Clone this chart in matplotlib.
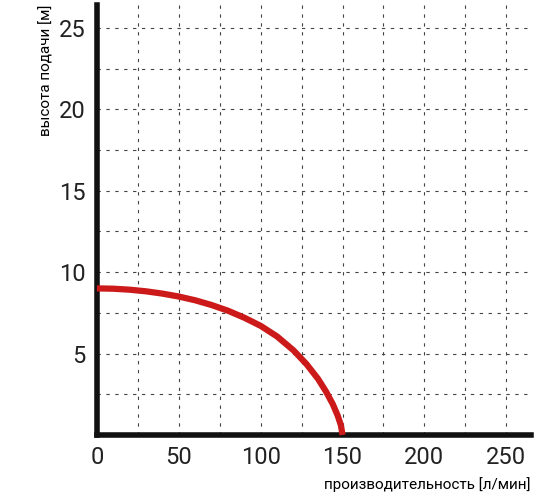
import matplotlib
matplotlib.use("Agg")
import matplotlib.pyplot as plt
from matplotlib.ticker import MultipleLocator

flow = [0, 10, 20, 30, 40, 50, 60, 70, 80, 90, 100, 110, 120, 128, 135, 140, 144, 147, 149, 150]
head = [9.0, 8.98, 8.92, 8.82, 8.68, 8.5, 8.27, 7.98, 7.63, 7.2, 6.7, 6.05, 5.2, 4.35, 3.45, 2.65, 1.9, 1.2, 0.6, 0.0]
xticks = [0, 50, 100, 150, 200, 250]
yticks = [5, 10, 15, 20, 25]

plt.rcParams['font.family'] = ['Roboto', 'DejaVu Sans']
fig = plt.figure(figsize=(5.6, 5.04), dpi=100)
ax = fig.add_axes([0.173, 0.137, 0.775, 0.853])
ax.set_xlim(0, 265)
ax.set_ylim(0, 26.4)
ax.xaxis.set_minor_locator(MultipleLocator(25))
ax.yaxis.set_minor_locator(MultipleLocator(2.5))
ax.set_xticks(xticks)
ax.set_yticks(yticks)
ax.grid(which='both', color='#444444', linestyle=(0, (3, 5)), linewidth=0.8)
ax.tick_params(which='both', length=0, labelsize=17, colors='#222222', pad=8)
for s in ['top', 'right']:
    ax.spines[s].set_visible(False)
for s in ['left', 'bottom']:
    ax.spines[s].set_linewidth(4)
    ax.spines[s].set_color('#111111')
ax.plot(flow, head, color='#cc1a1a', linewidth=4.5, solid_capstyle='butt', zorder=5, clip_on=False)
ax.set_xlabel('производительность [л/мин]', fontsize=11, loc='right', labelpad=6)
ax.set_ylabel('высота подачи [м]', fontsize=11, loc='top', labelpad=4)
fig.savefig('out.png', dpi=100)
